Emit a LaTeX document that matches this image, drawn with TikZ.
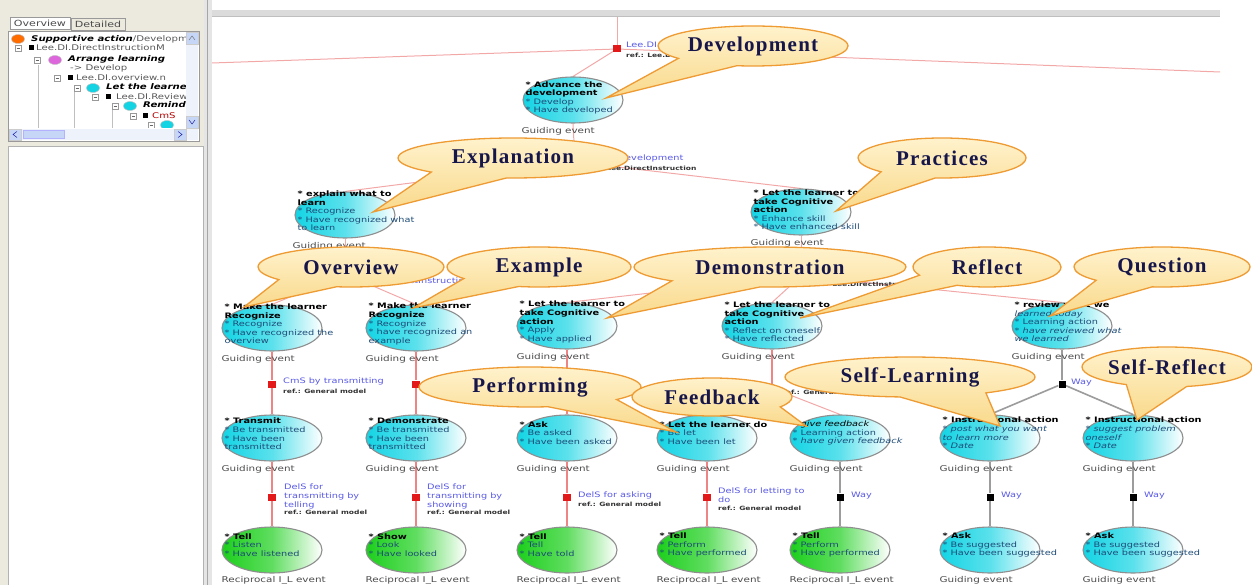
\documentclass[tikz,border=0pt]{standalone}
\usepackage{fontspec}
\setmainfont{DejaVu Sans}[FakeStretch=1.3]
\newfontfamily\callfont{Liberation Serif}[LetterSpace=6]
\usetikzlibrary{calc}
\usetikzlibrary{backgrounds}
\usetikzlibrary{shapes.geometric}
\usetikzlibrary{shapes.callouts}

\definecolor{linepink}{HTML}{F3A8A8}
\definecolor{linered}{HTML}{EE8484}
\definecolor{sqred}{HTML}{E31818}
\definecolor{waygray}{HTML}{9C9C9C}
\definecolor{evcyan}{HTML}{14D4E4}
\definecolor{evgreen}{HTML}{1CCF1C}
\definecolor{evborder}{HTML}{8E8E8E}
\definecolor{evtext}{HTML}{1E4C78}
\definecolor{lblblue}{HTML}{5A5AE6}
\definecolor{calltop}{HTML}{FFF2CC}
\definecolor{callbot}{HTML}{F9D98B}
\definecolor{calldraw}{HTML}{EE9B33}
\definecolor{calltext}{HTML}{16164A}
\definecolor{panelgray}{HTML}{ECE9DE}
\definecolor{scrollbg}{HTML}{EEF2FB}
\definecolor{scrollbtn}{HTML}{C6D6F6}

\newcommand\evhead[1]{\textcolor{black}{\bfseries #1}}

\tikzset{
  evt/.style={ellipse, draw=evborder, line width=1.1pt, minimum width=100pt,
    minimum height=46pt, inner sep=0pt, left color=evcyan,
    right color=white, middle color=evcyan!70!white},
  evtg/.style={evt, left color=evgreen, right color=white,
    middle color=evgreen!70!white},
  evtxt/.style={anchor=west, align=left, inner sep=0pt,
    font=\fontsize{7.5}{8.6}\selectfont, text=evtext},
  kind/.style={anchor=north west, inner sep=0pt,
    font=\fontsize{8}{9}\selectfont, text=black!70},
  conn/.style={draw=linepink, line width=1pt},
  connred/.style={draw=linered, line width=1.3pt},
  wayconn/.style={draw=waygray, line width=1.6pt},
  sq/.style={fill=sqred, minimum width=8pt, minimum height=7pt, inner sep=0pt},
  waysq/.style={fill=black, minimum size=7pt, inner sep=0pt},
  lbl/.style={anchor=north west, align=left, inner sep=0pt,
    font=\fontsize{7.5}{8.6}\selectfont, text=lblblue},
  reflbl/.style={anchor=north west, inner sep=0pt,
    font=\fontsize{5.8}{7}\selectfont\bfseries, text=black!80},
  callout/.style={ellipse callout, draw=calldraw, line width=1.3pt,
    top color=calltop, bottom color=callbot, callout pointer arc=42,
    minimum height=40pt, inner sep=0pt, text=calltext,
    font=\callfont\bfseries\fontsize{21}{23}\selectfont},
  tab/.style={draw=black!40, inner xsep=4pt, inner ysep=2.5pt,
    font=\fontsize{8.5}{9}\selectfont, text=black!70},
  tree/.style={anchor=west, inner sep=0pt, font=\fontsize{7.8}{9}\selectfont,
    text=black!65},
  icon/.style={ellipse, draw=black!25, minimum width=13pt, minimum height=9pt,
    inner sep=0pt},
  minus/.style={draw=black!40, fill=white, minimum size=6pt, inner sep=0pt,
    path picture={\draw[black!60] (path picture bounding box.west)
      ++(1.5pt,0) -- ++(3pt,0);}},
  blk/.style={fill=black, minimum size=5pt, inner sep=0pt}
}

\begin{document}
\begin{tikzpicture}[x=1pt, y=-1pt]
  \useasboundingbox (0,0) rectangle (1252,585);

  % window frame
  \fill[panelgray] (0,0) rectangle (204,585);
  \fill[white] (8,146) rectangle (203,585);
  \draw[black!30] (8,585) -- (8,146) -- (203,146) -- (203,585);
  \fill[black!10] (204,0) rectangle (212,585);
  \draw[black!35] (207.5,0) -- (207.5,585);
  \fill[black!14] (212,10) rectangle (1220,16);
  \draw[black!25] (212,16) -- (1220,16);

  % tree view
  \node[tab, fill=white] (tabOv) at (40,23) {Overview};
  \node[tab, fill=panelgray] (tabDt) at (98,24) {Detailed};
  \draw[black!40, fill=white] (8,31) rectangle (199,141);
  \begin{scope}
    \clip (9,32) rectangle (186,128);
    \draw[black!25] (38,65) -- (38,130);
    \draw[black!25] (74,90) -- (74,130);
    \draw[black!25] (112,108) -- (112,130);
    \node[icon, fill=orange!85!red] (icSup) at (18,39) {};
    \node[tree] (trSup) at (31,39) {\textcolor{black}{\bfseries\itshape Supportive action}/Development};
    \node[minus] (mxDI) at (18,48) {};
    \node[blk] (bkDI) at (31,48) {};
    \node[tree] (trDI) at (36,48) {Lee.DI.DirectInstructionM};
    \node[minus] (mxArr) at (37,60) {};
    \node[icon, fill=violet!45!magenta!60] (icArr) at (55,60) {};
    \node[tree] (trArr) at (68,59) {\textcolor{black}{\bfseries\itshape Arrange learning}};
    \node[tree] (trDev) at (70,68) {-{}> Develop};
    \node[minus] (mxOv) at (57,78) {};
    \node[blk] (bkOv) at (70,78) {};
    \node[tree] (trOv) at (76,78) {Lee.DI.overview.n};
    \node[minus] (mxLet) at (77,88) {};
    \node[icon, fill=evcyan] (icLet) at (93,88) {};
    \node[tree] (trLet) at (106,87) {\textcolor{black}{\bfseries\itshape Let the learner}};
    \node[minus] (mxRev) at (95,97) {};
    \node[blk] (bkRev) at (108,97) {};
    \node[tree] (trRev) at (116,97) {Lee.DI.Review};
    \node[minus] (mxRem) at (115,106) {};
    \node[icon, fill=evcyan] (icRem) at (130,106) {};
    \node[tree] (trRem) at (143,105) {\textcolor{black}{\bfseries\itshape Remind}};
    \node[minus] (mxCmS) at (133,116) {};
    \node[blk] (bkCmS) at (145,116) {};
    \node[tree, text=red!70!black] (trCmS) at (152,116) {CmS};
    \node[minus] (mxLast) at (151,125) {};
    \node[icon, fill=evcyan] (icLast) at (167,125) {};
  \end{scope}
  \fill[scrollbg] (186,32) rectangle (198,128);
  \draw[black!20, fill=scrollbtn] (186,32) rectangle (198,44);
  \draw[black!60] (189,40) -- (192,36) -- (195,40);
  \draw[black!20, fill=scrollbtn] (186,116) rectangle (198,128);
  \draw[blue!60!black] (189,120) -- (192,124) -- (195,120);
  \fill[scrollbg] (9,129) rectangle (198,140);
  \draw[black!20, fill=scrollbtn] (9,129) rectangle (21,140);
  \draw[blue!60!black] (17,131.5) -- (13,134.5) -- (17,137.5);
  \draw[blue!30, fill=scrollbtn] (23,130.5) rectangle (64,138.5);
  \draw[black!20, fill=scrollbtn] (174,129) rectangle (186,140);
  \draw[blue!60!black] (178,131.5) -- (182,134.5) -- (178,137.5);

  % level 0
  \node[evt] (adv) at (573,100) {};
  \node[evtxt] (advT) at ([xshift=3pt,yshift=2pt]adv.west) {\evhead{* Advance the}\\\evhead{development}\\* Develop\\* Have developed};
  \path (adv.south -| adv.west) ++(-1,4) node[kind] (advK) {Guiding event};

  % level 1
  \node[evt] (expl) at (345,215) {};
  \node[evtxt] (explT) at ([xshift=3pt,yshift=4pt]expl.west) {\evhead{* explain what to}\\\evhead{learn}\\* Recognize\\* Have recognized what\\to learn};
  \path (expl.south -| expl.west) ++(-2,4) node[kind] (explK) {Guiding event};
  \node[evt] (cog) at (801,212) {};
  \node[evtxt] (cogT) at ([xshift=3pt,yshift=2pt]cog.west) {\evhead{* Let the learner to}\\\evhead{take Cognitive}\\\evhead{action}\\* Enhance skill\\* Have enhanced skill};
  \path (cog.south -| cog.west) ++(0,4) node[kind] (cogK) {Guiding event};

  % level 2
  \node[evt] (ovw) at (272,328) {};
  \node[evtxt] (ovwT) at ([xshift=3pt,yshift=4pt]ovw.west) {\evhead{* Make the learner}\\\evhead{Recognize}\\* Recognize\\* Have recognized the\\overview};
  \path (ovw.south -| ovw.west) ++(0,4) node[kind] (ovwK) {Guiding event};
  \node[evt] (exm) at (416,328) {};
  \node[evtxt] (exmT) at ([xshift=3pt,yshift=4pt]exm.west) {\evhead{* Make the learner}\\\evhead{Recognize}\\* Recognize\\* have recognized an\\example};
  \path (exm.south -| exm.west) ++(0,4) node[kind] (exmK) {Guiding event};
  \node[evt] (app) at (567,326) {};
  \node[evtxt] (appT) at ([xshift=3pt,yshift=4pt]app.west) {\evhead{* Let the learner to}\\\evhead{take Cognitive}\\\evhead{action}\\* Apply\\* Have applied};
  \path (app.south -| app.west) ++(0,4) node[kind] (appK) {Guiding event};
  \node[evt] (rfl) at (772,326) {};
  \node[evtxt] (rflT) at ([xshift=3pt,yshift=4pt]rfl.west) {\evhead{* Let the learner to}\\\evhead{take Cognitive}\\\evhead{action}\\* Reflect on oneself\\* Have reflected};
  \path (rfl.south -| rfl.west) ++(0,4) node[kind] (rflK) {Guiding event};
  \node[evt] (rev) at (1062,326) {};
  \node[evtxt] (revT) at ([xshift=3pt,yshift=4pt]rev.west) {\evhead{* review what we}\\\textit{learned today}\\* Learning action\\\textit{* have reviewed what}\\\textit{we learned}};
  \path (rev.south -| rev.west) ++(0,4) node[kind] (revK) {Guiding event};

  % level 3
  \node[evt] (trn) at (272,438) {};
  \node[evtxt] (trnT) at ([xshift=3pt,yshift=4pt]trn.west) {\evhead{* Transmit}\\* Be transmitted\\* Have been\\transmitted};
  \path (trn.south -| trn.west) ++(0,4) node[kind] (trnK) {Guiding event};
  \node[evt] (dem) at (416,438) {};
  \node[evtxt] (demT) at ([xshift=3pt,yshift=4pt]dem.west) {\evhead{* Demonstrate}\\* Be transmitted\\* Have been\\transmitted};
  \path (dem.south -| dem.west) ++(0,4) node[kind] (demK) {Guiding event};
  \node[evt] (ask) at (567,438) {};
  \node[evtxt] (askT) at ([xshift=3pt,yshift=5pt]ask.west) {\evhead{* Ask}\\* Be asked\\* Have been asked};
  \path (ask.south -| ask.west) ++(0,4) node[kind] (askK) {Guiding event};
  \node[evt] (letdo) at (707,438) {};
  \node[evtxt] (letdoT) at ([xshift=3pt,yshift=5pt]letdo.west) {\evhead{* Let the learner do}\\* Be let\\* Have been let};
  \path (letdo.south -| letdo.west) ++(0,4) node[kind] (letdoK) {Guiding event};
  \node[evt] (fbk) at (840,438) {};
  \node[evtxt] (fbkT) at ([xshift=3pt,yshift=5pt]fbk.west) {\textcolor{black}{\textit{* give feedback}}\\* Learning action\\\textit{* have given feedback}};
  \path (fbk.south -| fbk.west) ++(0,4) node[kind] (fbkK) {Guiding event};
  \node[evt] (pst) at (990,438) {};
  \node[evtxt] (pstT) at ([xshift=3pt,yshift=5pt]pst.west) {\evhead{* Instructional action}\\\textit{* post what you want}\\\textit{to learn more}\\\textit{* Date}};
  \path (pst.south -| pst.west) ++(0,4) node[kind] (pstK) {Guiding event};
  \node[evt] (sgp) at (1133,438) {};
  \node[evtxt] (sgpT) at ([xshift=3pt,yshift=5pt]sgp.west) {\evhead{* Instructional action}\\\textit{* suggest problem}\\\textit{oneself}\\\textit{* Date}};
  \path (sgp.south -| sgp.west) ++(0,4) node[kind] (sgpK) {Guiding event};

  % level 4
  \node[evtg] (tl1) at (272,550) {};
  \node[evtxt] (tl1T) at ([xshift=3pt,yshift=5pt]tl1.west) {\evhead{* Tell}\\* Listen\\* Have listened};
  \path (tl1.south -| tl1.west) ++(0,3) node[kind] (tl1K) {Reciprocal I\_L event};
  \node[evtg] (shw) at (416,550) {};
  \node[evtxt] (shwT) at ([xshift=3pt,yshift=5pt]shw.west) {\evhead{* Show}\\* Look\\* Have looked};
  \path (shw.south -| shw.west) ++(0,3) node[kind] (shwK) {Reciprocal I\_L event};
  \node[evtg] (tl2) at (567,550) {};
  \node[evtxt] (tl2T) at ([xshift=3pt,yshift=5pt]tl2.west) {\evhead{* Tell}\\* Tell\\* Have told};
  \path (tl2.south -| tl2.west) ++(0,3) node[kind] (tl2K) {Reciprocal I\_L event};
  \node[evtg] (tl3) at (707,550) {};
  \node[evtxt] (tl3T) at ([xshift=3pt,yshift=5pt]tl3.west) {\evhead{* Tell}\\* Perform\\* Have performed};
  \path (tl3.south -| tl3.west) ++(0,3) node[kind] (tl3K) {Reciprocal I\_L event};
  \node[evtg] (tl4) at (840,550) {};
  \node[evtxt] (tl4T) at ([xshift=3pt,yshift=5pt]tl4.west) {\evhead{* Tell}\\* Perform\\* Have performed};
  \path (tl4.south -| tl4.west) ++(0,3) node[kind] (tl4K) {Reciprocal I\_L event};
  \node[evt] (as1) at (990,550) {};
  \node[evtxt] (as1T) at ([xshift=3pt,yshift=5pt]as1.west) {\evhead{* Ask}\\* Be suggested\\* Have been suggested};
  \path (as1.south -| as1.west) ++(0,3) node[kind] (as1K) {Guiding event};
  \node[evt] (as2) at (1133,550) {};
  \node[evtxt] (as2T) at ([xshift=3pt,yshift=5pt]as2.west) {\evhead{* Ask}\\* Be suggested\\* Have been suggested};
  \path (as2.south -| as2.west) ++(0,3) node[kind] (as2K) {Guiding event};

  % junction squares and their labels
  \node[sq] (topsq) at (617,49) {};
  \node[lbl] (topL) at (626,42) {Lee.DI};
  \node[reflbl] (topR) at (626,53) {ref.: Lee.DI};
  \node[sq] (advsq) at (575,162) {};
  \node[lbl] (advL) at (585,155) {Lee.DI.development};
  \node[reflbl] (advR) at (585,166) {ref.: Lee.DirectInstruction};
  \node[sq] (explsq) at (345,274) {};
  \node[lbl] (explL) at (355,278) {Lee.DI.DirectInstruction};
  \node[sq] (cogsq) at (801,276) {};
  \node[lbl] (cogL) at (848,272) {ref ex};
  \node[reflbl] (cogR) at (811,282) {ref.: Lee.DirectInstruction};

  \node[sq] (ovwsq) at (272,384) {};
  \node[lbl] (ovwL) at (283,378) {CmS by transmitting};
  \node[reflbl] (ovwR) at (283,389) {ref.: General model};
  \node[sq] (exmsq) at (416,384) {};
  \node[sq] (appsq) at (567,384) {};
  \node[sq] (rflsq) at (772,388) {};
  \node[reflbl] (rflR) at (782,390) {ref.: General model};
  \node[waysq] (revsq) at (1062,384) {};
  \node[lbl] (revL) at (1071,379) {Way};

  \node[sq] (trnsq) at (272,497) {};
  \node[lbl] (trnL) at (284,484) {DelS for\\transmitting by\\telling};
  \node[reflbl] (trnR) at (284,510) {ref.: General model};
  \node[sq] (demsq) at (416,497) {};
  \node[lbl] (demL) at (427,484) {DelS for\\transmitting by\\showing};
  \node[reflbl] (demR) at (427,510) {ref.: General model};
  \node[sq] (asksq) at (567,497) {};
  \node[lbl] (askL) at (578,492) {DelS for asking};
  \node[reflbl] (askR) at (578,502) {ref.: General model};
  \node[sq] (letdosq) at (707,497) {};
  \node[lbl] (letdoL) at (718,488) {DelS for letting to\\do};
  \node[reflbl] (letdoR) at (718,506) {ref.: General model};
  \node[waysq] (fbksq) at (840,497) {};
  \node[lbl] (fbkL) at (851,492) {Way};
  \node[waysq] (pstsq) at (990,497) {};
  \node[lbl] (pstL) at (1001,492) {Way};
  \node[waysq] (sgpsq) at (1133,497) {};
  \node[lbl] (sgpL) at (1144,492) {Way};

  % connectors
  \begin{scope}[on background layer]
    \fill[white] (0,0) rectangle (1252,585);
    \coordinate (topin) at (617,16);
    \coordinate (leftend) at (212,63);
    \coordinate (rightend) at (1220,72);
    \draw[conn] (topin) -- (topsq);
    \draw[conn] (leftend) -- (topsq) -- (rightend);
    \draw[conn] (topsq) -- (adv.north);
    \draw[conn] (adv.south) -- (advsq);
    \draw[conn] (advsq) -- (expl.north);
    \draw[conn] (advsq) -- (cog.north);
    \draw[conn] (expl.south) -- (explsq);
    \draw[conn] (explsq) -- (ovw.north);
    \draw[conn] (explsq) -- (exm.north);
    \draw[conn] (cog.south) -- (cogsq);
    \draw[conn] (cogsq) -- (app.north);
    \draw[conn] (cogsq) -- (rfl.north);
    \draw[conn] (cogsq) -- (rev.north);

    \draw[connred] (ovw.south) -- (ovwsq) -- (trn.north);
    \draw[connred] (exm.south) -- (exmsq) -- (dem.north);
    \draw[connred] (app.south) -- (appsq) -- (ask.north);
    \draw[connred] (rfl.south) -- (rflsq);
    \draw[conn] (rflsq) -- (letdo.north);
    \draw[conn] (rflsq) -- (fbk.north);
    \draw[wayconn] (rev.south) -- (revsq);
    \draw[wayconn] (revsq) -- (pst.north);
    \draw[wayconn] (revsq) -- (sgp.north);

    \draw[connred] (trn.south) -- (trnsq) -- (tl1.north);
    \draw[connred] (dem.south) -- (demsq) -- (shw.north);
    \draw[connred] (ask.south) -- (asksq) -- (tl2.north);
    \draw[connred] (letdo.south) -- (letdosq) -- (tl3.north);
    \draw[wayconn] (fbk.south) -- (fbksq) -- (tl4.north);
    \draw[wayconn] (pst.south) -- (pstsq) -- (as1.north);
    \draw[wayconn] (sgp.south) -- (sgpsq) -- (as2.north);
  \end{scope}

  % callouts
  \node[callout, minimum width=190pt, callout absolute pointer={(606,98)}] (cDev) at (753,46) {Development};
  \node[callout, minimum width=230pt, callout absolute pointer={(373,212)}] (cExp) at (513,158) {Explanation};
  \node[callout, minimum width=168pt, callout absolute pointer={(836,211)}] (cPra) at (942,158) {Practices};
  \node[callout, minimum width=186pt, callout absolute pointer={(244,307)}] (cOvw) at (351,267) {Overview};
  \node[callout, minimum width=184pt, callout absolute pointer={(413,308)}] (cExm) at (539,267) {Example};
  \node[callout, minimum width=272pt, callout absolute pointer={(607,318)}] (cDem) at (770,267) {Demonstration};
  \node[callout, minimum width=148pt, callout absolute pointer={(800,318)}] (cRfl) at (987,267) {Reflect};
  \node[callout, minimum width=176pt, callout absolute pointer={(1050,316)}] (cQst) at (1162,267) {Question};
  \node[callout, minimum width=222pt, callout absolute pointer={(676,432)}] (cPrf) at (530,387) {Performing};
  \node[callout, minimum width=160pt, minimum height=38pt, callout absolute pointer={(806,426)}] (cFbk) at (712,397) {Feedback};
  \node[callout, minimum width=250pt, callout absolute pointer={(1000,426)}] (cSlf) at (910,377) {Self-Learning};
  \node[callout, minimum width=170pt, callout absolute pointer={(1137,420)}] (cSrf) at (1167,367) {Self-Reflect};
\end{tikzpicture}
\end{document}
